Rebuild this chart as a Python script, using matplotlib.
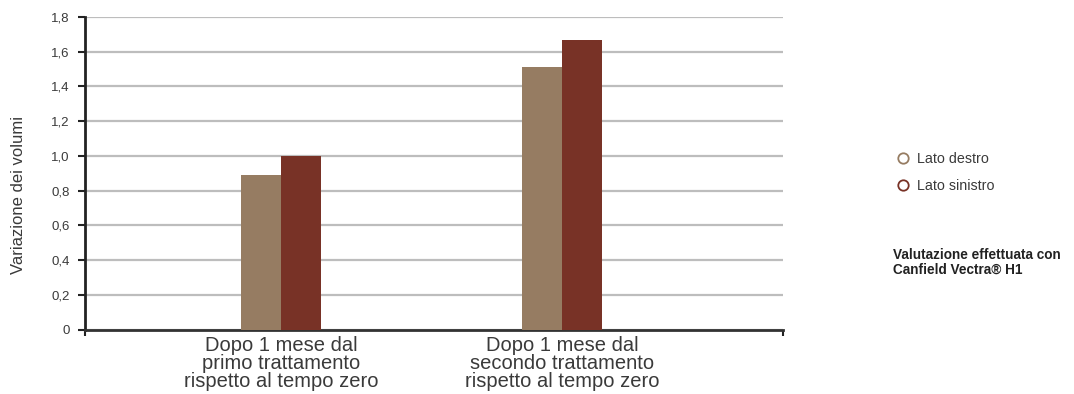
import numpy as np
import matplotlib.pyplot as plt
from matplotlib.lines import Line2D

# data ---
categorie = ['Dopo 1 mese dal\nprimo trattamento\nrispetto al tempo zero',
             'Dopo 1 mese dal\nsecondo trattamento\nrispetto al tempo zero']
lato_destro = [0.89, 1.51]
lato_sinistro = [1.0, 1.67]
serie = ['Lato destro', 'Lato sinistro']
yticks = [0, 0.2, 0.4, 0.6, 0.8, 1.0, 1.2, 1.4, 1.6, 1.8]
ytick_labels = ['0', '0,2', '0,4', '0,6', '0,8', '1,0', '1,2', '1,4', '1,6', '1,8']
#---

c = ['#967c62', '#783226']
txt = '#3a3a3a'
plt.rcParams['font.family'] = ['Liberation Sans', 'DejaVu Sans']

fig = plt.figure(figsize=[10.74, 3.94], dpi=100)
ax = fig.add_axes([0.0791, 0.1637, 0.650, 0.7931])

x = np.arange(len(categorie))
w = 0.142
ax.bar(x - w/2, lato_destro, w, color=c[0], zorder=3)
ax.bar(x + w/2, lato_sinistro, w, color=c[1], zorder=3)

ax.set_xlim(-0.6975, 1.7865)
ax.set_ylim(0, 1.8)
ax.set_yticks(yticks)
ax.set_yticklabels(ytick_labels, color=txt, fontsize=9.5)
ax.set_xticks(x)
ax.set_xticklabels(categorie, color=txt, fontsize=14.5, linespacing=0.92)
ax.tick_params(axis='x', length=0, pad=5)
ax.set_xticks([-0.6975, 1.7865], minor=True)
ax.tick_params(axis='x', which='minor', length=4, width=1.5, color='#222222')
ax.tick_params(axis='y', length=5, width=1.5, color='#222222', pad=6)
ax.yaxis.grid(True, color='#bdbdbd', linewidth=1.6, zorder=0)
ax.set_axisbelow(True)
for s in ['top', 'right']:
    ax.spines[s].set_visible(False)
ax.spines['left'].set_linewidth(2)
ax.spines['left'].set_color('#222222')
ax.spines['bottom'].set_linewidth(2)
ax.spines['bottom'].set_color('#333333')
ax.set_ylabel('Variazione dei volumi', color=txt, fontsize=12)
ax.yaxis.set_label_coords(-0.084, 0.43)

handles = [Line2D([], [], marker='o', linestyle='none', markerfacecolor='white',
                  markeredgecolor=c[i], markersize=7.5, markeredgewidth=1.3) for i in range(2)]
fig.legend(handles, serie, loc='upper left', bbox_to_anchor=(0.822, 0.648), frameon=False,
           fontsize=10.3, labelcolor=txt, handletextpad=0.5, labelspacing=0.95, handlelength=1.0)

fig.text(0.8315, 0.297, 'Valutazione effettuata con\nCanfield Vectra® H1',
         fontweight='bold', fontsize=9.8, color='#222222', va='bottom', linespacing=1.1)

plt.savefig('out.png', dpi=100)
